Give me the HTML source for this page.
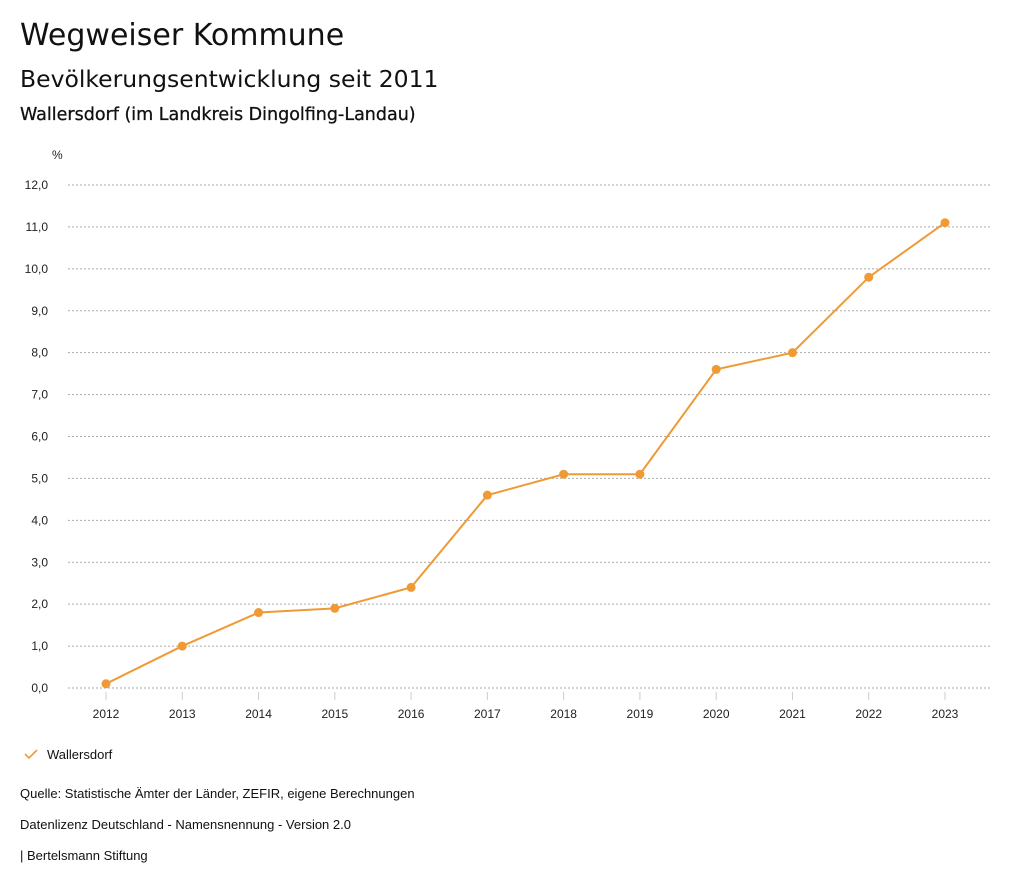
<!DOCTYPE html>
<html><head><meta charset="utf-8"><style>
body{margin:0;width:1024px;height:888px;background:#fff;font-family:"Liberation Sans",sans-serif;color:#111;overflow:hidden;position:relative}
.t{position:absolute;white-space:nowrap}
</style></head><body>
<div class="t" style="left:20px;top:18px;font-size:30px;font-family:'DejaVu Sans',sans-serif">Wegweiser Kommune</div>
<div class="t" style="left:20px;top:65px;font-size:23.5px;font-family:'DejaVu Sans',sans-serif">Bevölkerungsentwicklung seit 2011</div>
<div class="t" style="left:20px;top:105px;font-size:17.5px;font-family:'DejaVu Sans',sans-serif;-webkit-text-stroke:0.3px #111">Wallersdorf (im Landkreis Dingolfing-Landau)</div>
<svg id="chart" width="1024" height="740" style="position:absolute;left:0;top:0" font-family="Liberation Sans, sans-serif"></svg>
<div class="t" style="left:20px;top:786px;font-size:13px">Quelle: Statistische Ämter der Länder, ZEFIR, eigene Berechnungen</div>
<div class="t" style="left:20px;top:817px;font-size:13px">Datenlizenz Deutschland - Namensnennung - Version 2.0</div>
<div class="t" style="left:20px;top:848px;font-size:13px">| Bertelsmann Stiftung</div>
<div class="t" style="left:24px;top:747px;font-size:13px"><svg width="14" height="12" style="vertical-align:-1px;margin-right:9px"><path d="M1 6 L5 10 L13 2" fill="none" stroke="#ef9a35" stroke-width="1.6"/></svg>Wallersdorf</div>
<script>
const years=["2012","2013","2014","2015","2016","2017","2018","2019","2020","2021","2022","2023"];
const values=[0.1,1.0,1.8,1.9,2.4,4.6,5.1,5.1,7.6,8.0,9.8,11.1];
const yTicks=[0,1,2,3,4,5,6,7,8,9,10,11,12];
const ns="http://www.w3.org/2000/svg";
const svg=document.getElementById('chart');
const y=v=>688-v*(688-185)/12;
const x=i=>106+i*(945-106)/11;
function mk(t,a){const e=document.createElementNS(ns,t);for(const k in a)e.setAttribute(k,a[k]);svg.appendChild(e);return e;}
const u=mk('text',{x:52,y:159,'font-size':12,fill:'#222'});u.textContent='%';


yTicks.forEach(v=>{
 const g=mk('line',{x1:68,x2:990,y1:y(v),y2:y(v),stroke:'#aaa','stroke-dasharray':'2,2'});
 
 
 const t=mk('text',{x:48,y:y(v)+4,'text-anchor':'end','font-size':12,fill:'#222'});
 t.textContent=v.toFixed(1).replace('.',',');
 
 
});
years.forEach((yr,i)=>{
 const l=mk('line',{x1:x(i),x2:x(i),y1:692,y2:700,stroke:'#ccc'});
 
 
 const t=mk('text',{x:x(i),y:718,'text-anchor':'middle','font-size':12,fill:'#222'});
 t.textContent=yr;
 
 
});
const p=mk('polyline',{points:values.map((v,i)=>x(i)+','+y(v)).join(' '),fill:'none',stroke:'#ef9a35','stroke-width':2});


values.forEach((v,i)=>{
 const c=mk('circle',{cx:x(i),cy:y(v),r:4.5,fill:'#ef9a35'});
 
 
});
</script>
</body></html>
